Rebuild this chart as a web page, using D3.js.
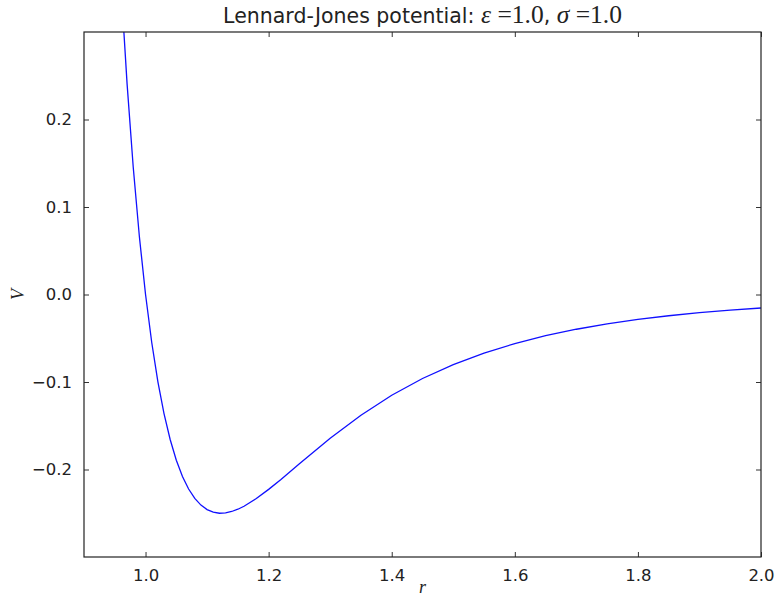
<!DOCTYPE html>
<html>
<head>
<meta charset="utf-8">
<script src="https://cdn.jsdelivr.net/npm/d3@7"></script>
<style>
  body { margin: 0; background: #fff; }
  svg { display: block; }
</style>
</head>
<body>
<div id="chart"></div>
<script>
// separation r and potential V
const rValues = [0.95, 0.96, 0.97, 0.98, 0.99, 1.00, 1.01, 1.02, 1.03, 1.04, 1.05, 1.06, 1.07, 1.08, 1.09, 1.10,
  1.11, 1.12, 1.13, 1.14, 1.15, 1.16, 1.18, 1.20, 1.22, 1.25, 1.30, 1.35, 1.40, 1.45, 1.50, 1.55, 1.60, 1.65,
  1.70, 1.75, 1.80, 1.85, 1.90, 1.95, 2.00];
const vValues = [0.490, 0.3546, 0.2407, 0.1455, 0.0660, 0.0, -0.0546, -0.0995, -0.1361, -0.1657, -0.1894, -0.2080,
  -0.2223, -0.2331, -0.2407, -0.2458, -0.2488, -0.2500, -0.2496, -0.2480, -0.2454, -0.2420, -0.2332, -0.2227,
  -0.2113, -0.1934, -0.1643, -0.1379, -0.1152, -0.0960, -0.0801, -0.0669, -0.0561, -0.0471, -0.0397, -0.0336,
  -0.0285, -0.0243, -0.0208, -0.0179, -0.0154];
const xTicks = [1.0, 1.2, 1.4, 1.6, 1.8, 2.0];
const yTicks = [-0.2, -0.1, 0.0, 0.1, 0.2];

const width = 775, height = 597;
const margin = { top: 32, right: 14, bottom: 40, left: 84 };

const x = d3.scaleLinear().domain([0.9, 2.0]).range([margin.left, width - margin.right]);
const y = d3.scaleLinear().domain([-0.3, 0.3]).range([height - margin.bottom, margin.top]);

const svg = d3.select("#chart").append("svg")
    .attr("width", width)
    .attr("height", height)
    .attr("font-family", "DejaVu Sans, sans-serif");

svg.append("clipPath").attr("id", "plot-clip")
  .append("rect")
    .attr("x", x(0.9)).attr("y", y(0.3))
    .attr("width", x(2.0) - x(0.9)).attr("height", y(-0.3) - y(0.3));

const points = rValues.map((r, i) => [r, vValues[i]]);

svg.append("path")
    .datum(points)
    .attr("clip-path", "url(#plot-clip)")
    .attr("fill", "none")
    .attr("stroke", "#1010ff")
    .attr("stroke-width", 1.3)
    .attr("d", d3.line().x(d => x(d[0])).y(d => y(d[1])));

const tickLen = 5;
const fmt = d3.format(".1f");

// bottom axis, ticks pointing inward
svg.append("g")
    .attr("transform", `translate(0,${y(-0.3)})`)
    .call(d3.axisBottom(x).tickValues(xTicks).tickFormat(fmt).tickSizeInner(-tickLen).tickSizeOuter(0).tickPadding(12))
    .call(g => g.select(".domain").remove())
    .call(g => g.selectAll("text").attr("font-size", 16.5).attr("fill", "#222").attr("font-family", "DejaVu Sans, sans-serif"));

// top ticks
svg.append("g")
    .attr("transform", `translate(0,${y(0.3)})`)
    .call(d3.axisTop(x).tickValues(xTicks).tickFormat("").tickSizeInner(-tickLen).tickSizeOuter(0))
    .call(g => g.select(".domain").remove());

// left axis
svg.append("g")
    .attr("transform", `translate(${x(0.9)},0)`)
    .call(d3.axisLeft(y).tickValues(yTicks).tickFormat(fmt).tickSizeInner(-tickLen).tickSizeOuter(0).tickPadding(12))
    .call(g => g.select(".domain").remove())
    .call(g => g.selectAll("text").attr("font-size", 16.5).attr("fill", "#222").attr("font-family", "DejaVu Sans, sans-serif"));

// right ticks
svg.append("g")
    .attr("transform", `translate(${x(2.0)},0)`)
    .call(d3.axisRight(y).tickValues(yTicks).tickFormat("").tickSizeInner(-tickLen).tickSizeOuter(0))
    .call(g => g.select(".domain").remove());

svg.selectAll(".tick line").attr("stroke", "#333");

// frame
svg.append("rect")
    .attr("x", x(0.9)).attr("y", y(0.3))
    .attr("width", x(2.0) - x(0.9)).attr("height", y(-0.3) - y(0.3))
    .attr("fill", "none")
    .attr("stroke", "#222")
    .attr("stroke-width", 1.2);

// title, math part in a serif face like mathtext
const serif = "Liberation Serif, serif";
const title = svg.append("text")
    .attr("x", (x(0.9) + x(2.0)) / 2)
    .attr("y", 23)
    .attr("text-anchor", "middle")
    .attr("font-size", 20.5)
    .attr("fill", "#222");
title.append("tspan").text("Lennard-Jones potential: ");
title.append("tspan").attr("font-family", serif).attr("font-size", 25.5).attr("font-style", "italic").text("ε");
title.append("tspan").attr("font-family", serif).attr("font-size", 25.5).text(" =1.0");
title.append("tspan").text(", ");
title.append("tspan").attr("font-family", serif).attr("font-size", 25.5).attr("font-style", "italic").text("σ");
title.append("tspan").attr("font-family", serif).attr("font-size", 25.5).text(" =1.0");

// axis labels
svg.append("text")
    .attr("x", (x(0.9) + x(2.0)) / 2)
    .attr("y", 593)
    .attr("text-anchor", "middle")
    .attr("font-family", serif)
    .attr("font-style", "italic")
    .attr("font-size", 18)
    .attr("fill", "#222")
    .text("r");

svg.append("text")
    .attr("transform", `translate(24,${(y(0.3) + y(-0.3)) / 2}) rotate(-90)`)
    .attr("text-anchor", "middle")
    .attr("font-family", serif)
    .attr("font-style", "italic")
    .attr("font-size", 18)
    .attr("fill", "#222")
    .text("V");
</script>
</body>
</html>
